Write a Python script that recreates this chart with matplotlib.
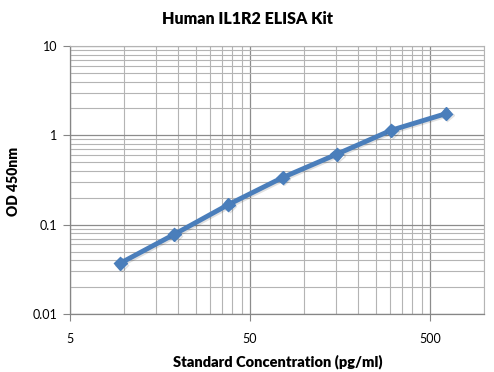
import numpy as np
import matplotlib
matplotlib.use("Agg")
import matplotlib.pyplot as plt
from matplotlib.ticker import FixedLocator, FixedFormatter, NullFormatter
import matplotlib.patheffects as pe

# Standardkurve
conc = [9.5, 19, 38, 76, 152, 305, 615]
od = [0.037, 0.078, 0.168, 0.337, 0.615, 1.14, 1.75]

x_ticks = [5, 50, 500]
x_labels = ["5", "50", "500"]
y_ticks = [0.01, 0.1, 1, 10]
y_labels = ["0.01", "0.1", "1", "10"]

plt.rcParams['font.family'] = ['Lato', 'DejaVu Sans']

fig = plt.figure(figsize=(4.94, 3.72), dpi=100)
ax = fig.add_axes([70 / 494, 58 / 372, 414 / 494, 268 / 372])

ax.set_xscale("log")
ax.set_yscale("log")
ax.set_xlim(5, 1000)
ax.set_ylim(0.01, 10)

ax.xaxis.set_major_locator(FixedLocator(x_ticks))
ax.xaxis.set_major_formatter(FixedFormatter(x_labels))
x_minor = [5 * 10 ** d * k for d in range(3) for k in range(2, 10)]
ax.xaxis.set_minor_locator(FixedLocator([v for v in x_minor if v <= 1000]))
ax.xaxis.set_minor_formatter(NullFormatter())

ax.yaxis.set_major_locator(FixedLocator(y_ticks))
ax.yaxis.set_major_formatter(FixedFormatter(y_labels))
y_minor = [10.0 ** d * k for d in range(-2, 1) for k in range(2, 10)]
ax.yaxis.set_minor_locator(FixedLocator(y_minor))
ax.yaxis.set_minor_formatter(NullFormatter())

ax.grid(True, which="major", color="#8c8c8c", linewidth=0.9)
ax.grid(True, which="minor", color="#b4b4b4", linewidth=0.8)
ax.set_axisbelow(True)

for side in ["top", "right"]:
    ax.spines[side].set_color("#b4b4b4")
    ax.spines[side].set_linewidth(0.8)
for side in ["left", "bottom"]:
    ax.spines[side].set_color("#868686")
    ax.spines[side].set_linewidth(0.9)

ax.tick_params(which="major", direction="out", length=5, color="#868686",
               labelsize=9, pad=4)
ax.tick_params(which="minor", length=0)
ax.tick_params(axis="x", which="major", pad=9)

ax.plot(conc, od, color="#4a7ebb", linewidth=3.5, marker="D", markersize=6.5,
        markerfacecolor="#4a7ebb", markeredgecolor="#4a7ebb", zorder=3,
        path_effects=[pe.SimpleLineShadow(offset=(1, -1), alpha=0.12),
                      pe.Normal()])

fig.text(0.5, 1 - 19 / 372, "Human IL1R2 ELISA Kit", ha="center", va="center",
         fontsize=11.5, fontweight="heavy")
fig.text(278 / 494, 1 - 362 / 372, "Standard Concentration (pg/ml)",
         ha="center", va="center", fontsize=10.5, fontweight="heavy")
fig.text(13 / 494, 1 - 181 / 372, "OD 450nm", ha="center", va="center",
         rotation=90, fontsize=10, fontweight="heavy")

fig.savefig("out.png", dpi=100)
